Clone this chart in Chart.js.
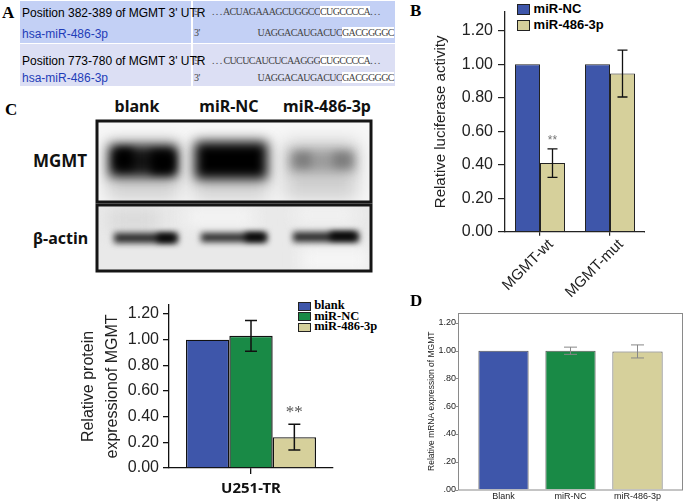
<!DOCTYPE html>
<html lang="en">
<head>
<meta charset="UTF-8">
<title>MGMT / miR-486-3p</title>
<script src="https://cdn.jsdelivr.net/npm/chart.js"></script>
<style>
    body {
        margin: 0;
        width: 685px;
        height: 504px;
        overflow: hidden;
        background: #fff;
        font-family: 'Liberation Sans', Arial, sans-serif;
        position: relative;
    }
    .abs { position: absolute; }
    .panel-letter {
        position: absolute;
        font-family: 'Liberation Serif', 'Times New Roman', serif;
        font-weight: bold;
        font-size: 17px;
        line-height: 1;
    }
    /* panel A table */
    .row { position: absolute; left: 20px; width: 375px; height: 42px; }
    .row .lcol { position: absolute; left: 0; top: 0; width: 171px; height: 42px; }
    .row .rcol { position: absolute; left: 173px; top: 0; width: 202px; height: 42px; }
    .lbl { position: absolute; left: 2px; font-size: 12px; white-space: nowrap; line-height: 14px; }
    .lbl.blue { color: #1f3db8; }
    .seq {
        position: absolute;
        font-family: 'Liberation Serif', 'Times New Roman', serif;
        font-size: 10px;
        color: #444;
        white-space: nowrap;
        line-height: 12px;
        letter-spacing: -0.6px;
    }
    .hl { background: #fff; }
    .blot-lbl {
        position: absolute;
        font-family: 'Noto Sans', 'Open Sans', sans-serif;
        font-weight: bold;
        font-size: 16px;
        line-height: 1;
        white-space: nowrap;
        color: #111;
    }
    .leg { position: absolute; white-space: nowrap; }
    .leg .sw { display: inline-block; vertical-align: middle; border: 1px solid #222; }
</style>
</head>
<body>

<!-- panel A: binding site table -->
<div class="panel-letter" style="left:2px;top:4px;">A</div>
<div class="row" style="top:1px;">
    <div class="lcol" style="background:#c3d0f5;"></div>
    <div class="rcol" style="background:#c3d0f5;"></div>
    <div class="lbl" style="top:5px;">Position 382-389 of MGMT 3' UTR</div>
    <div class="lbl blue" style="top:26px;">hsa-miR-486-3p</div>
</div>
<div class="row" style="top:44px;">
    <div class="lcol" style="background:#dcdff4;"></div>
    <div class="rcol" style="background:#dcdff4;"></div>
    <div class="lbl" style="top:10px;">Position 773-780 of MGMT 3' UTR</div>
    <div class="lbl blue" style="top:27px;">hsa-miR-486-3p</div>
</div>
<div id="seqs"></div>

<!-- panel B -->
<div class="panel-letter" style="left:410px;top:2px;">B</div>
<div id="legB"></div>
<canvas id="chartB" class="abs" width="245" height="300" style="left:400px;top:0px;"></canvas>

<!-- panel C: blot -->
<div class="panel-letter" style="left:5px;top:101px;">C</div>
<div id="blotHead"></div>
<div class="blot-lbl" style="left:33px;top:152px;font-size:17px;">MGMT</div>
<div class="blot-lbl" style="left:33px;top:230px;">β-actin</div>
<canvas id="blot" class="abs" width="280" height="155" style="left:95px;top:119px;"></canvas>

<!-- panel C: protein quantification -->
<div id="legC"></div>
<canvas id="chartC" class="abs" width="280" height="209" style="left:55px;top:295px;"></canvas>

<!-- panel D -->
<div class="panel-letter" style="left:410px;top:292px;">D</div>
<canvas id="chartD" class="abs" width="305" height="204" style="left:380px;top:300px;"></canvas>

<script>
    // ---- data ----
    // panel A sequences: [prefix, seed match, suffix]
    const utrRows = [
        ['. . . ACUAGAAAGCUGGCC', 'CUGCCCCA', '. . .'],
        ['. . . CUCUCAUCUCAAGGG', 'CUGCCCCA', '. . .']
    ];
    const mirSeq = ['UAGGACAUGACUC', 'GACGGGGC'];

    // panel B: luciferase reporter
    const lucCategories = ['MGMT-wt', 'MGMT-mut'];
    const lucSeries = ['miR-NC', 'miR-486-3p'];
    const lucNC = [1.00, 1.00];
    const lucMiR = [0.41, 0.945];
    const lucMiRErr = [0.085, 0.14];
    const lucMiRStars = ['**', ''];
    const lucTicks = [0, 0.2, 0.4, 0.6, 0.8, 1.0, 1.2];

    // panel C: western blot quantification
    const blotLanes = ['blank', 'miR-NC', 'miR-486-3p'];
    const protGroups = ['U251-TR'];
    const protValues = [1.00, 1.03, 0.24];
    const protErr = [0, 0.12, 0.10];
    const protStars = ['', '', '**'];
    const protTicks = [0, 0.2, 0.4, 0.6, 0.8, 1.0, 1.2];

    // panel D: mRNA
    const mrnaCategories = ['Blank', 'miR-NC', 'miR-486-3p'];
    const mrnaValues = [1.00, 1.00, 0.995];
    const mrnaErr = [0, 0.026, 0.047];
    const mrnaTicks = [0, 0.2, 0.4, 0.6, 0.8, 1.0, 1.2];

    const BLUE = '#3e56aa';
    const GREEN = '#198a46';
    const KHAKI = '#d6d09b';
    const groupColors = [BLUE, GREEN, KHAKI];
    const SANS = "'Liberation Sans', Arial, sans-serif";

    // ---- panel A text ----
    const seqBox = document.getElementById('seqs');
    function seqLine(top, tag, pre, mid, post, split) {
        let h = '<div class="seq" style="left:194px;top:' + top + 'px;">' + tag + '</div>';
        h += '<div class="seq" style="right:' + (685 - split) + 'px;top:' + top + 'px;">' + pre + '</div>';
        h += '<div class="seq" style="left:' + split + 'px;top:' + top + 'px;"><span class="hl">' + mid + '</span>' + post + '</div>';
        return h;
    }
    let seqHtml = '';
    seqHtml += seqLine(6, "5'", utrRows[0][0], utrRows[0][1], utrRows[0][2], 320);
    seqHtml += seqLine(27, "3'", mirSeq[0], mirSeq[1], '', 342);
    seqHtml += seqLine(55, "5'", utrRows[1][0], utrRows[1][1], utrRows[1][2], 320);
    seqHtml += seqLine(72, "3'", mirSeq[0], mirSeq[1], '', 342);
    seqBox.innerHTML = seqHtml;

    // ---- legends ----
    document.getElementById('legB').innerHTML = lucSeries.map((s, i) =>
        '<div class="leg" style="left:517px;top:' + (3 + i * 16) + 'px;font:bold 13px ' + SANS + ';line-height:12px;">' +
        '<span class="sw" style="width:11px;height:9px;background:' + [BLUE, KHAKI][i] + ';"></span> ' + s + '</div>'
    ).join('');

    document.getElementById('legC').innerHTML = blotLanes.map((s, i) =>
        '<div class="leg" style="left:298px;top:' + (300 + i * 10.5) + 'px;font:bold 12.5px \'Liberation Serif\', serif;line-height:11px;">' +
        '<span class="sw" style="width:11px;height:7px;background:' + groupColors[i] + ';"></span> ' + s + '</div>'
    ).join('');

    const laneCenters = [137, 229, 327];
    document.getElementById('blotHead').innerHTML = blotLanes.map((s, i) =>
        '<div class="blot-lbl" style="left:' + laneCenters[i] + 'px;top:98px;transform:translateX(-50%);">' + s + '</div>'
    ).join('');

    // ---- blot drawing ----
    (function drawBlot() {
        const c = document.getElementById('blot').getContext('2d');
        // MGMT strip
        c.fillStyle = '#f7f7f7';
        c.fillRect(2, 2, 274, 81);
        c.save();
        c.beginPath(); c.rect(3, 3, 272, 79); c.clip();
        // smear under the bands
        c.filter = 'blur(9px)';
        c.fillStyle = 'rgba(0,0,0,0.16)';
        [[12, 72], [98, 76], [190, 72]].forEach(l => c.fillRect(l[0], 22, l[1], 58));
        // band bodies
        c.filter = 'blur(6px)';
        c.fillStyle = '#141414';
        c.fillRect(14, 26, 68, 32);
        c.fillStyle = '#000';
        c.fillRect(100, 23, 72, 37);
        c.fillStyle = '#9a9a9a';
        c.fillRect(194, 31, 66, 22);
        // darker lobes at the lane ends
        c.filter = 'blur(4px)';
        c.fillStyle = '#000';
        c.fillRect(20, 30, 18, 20);
        c.fillRect(56, 32, 24, 22);
        c.fillStyle = '#7c7c7c';
        c.fillRect(200, 34, 16, 14);
        c.fillRect(238, 34, 18, 14);
        c.restore();
        c.lineWidth = 3;
        c.strokeStyle = '#151515';
        c.strokeRect(2, 2, 274, 81);

        // beta-actin strip
        c.fillStyle = '#e9e9e9';
        c.fillRect(2, 86, 274, 66);
        c.save();
        c.beginPath(); c.rect(3, 87, 272, 64); c.clip();
        c.filter = 'blur(8px)';
        c.fillStyle = '#d9d9d9';
        c.fillRect(14, 90, 50, 22);
        c.fillStyle = '#f6f6f6';
        c.fillRect(205, 128, 70, 25);
        c.fillRect(90, 90, 70, 16);
        c.fillRect(200, 90, 60, 12);
        c.filter = 'blur(3px)';
        c.fillStyle = '#2a2a2a';
        c.fillRect(19, 114, 64, 10);
        c.fillRect(106, 114, 66, 9);
        c.fillRect(198, 113, 66, 10);
        c.fillStyle = '#000';
        c.fillRect(62, 115, 18, 8);
        c.fillRect(150, 114, 20, 8);
        c.fillRect(235, 113, 26, 8);
        c.restore();
        c.strokeRect(2, 86, 274, 66);
    })();

    // ---- chart helpers ----
    const errorBars = {
        id: 'errorBars',
        afterDatasetsDraw(chart, args, opts) {
            const ctx = chart.ctx;
            const y = chart.scales.y;
            chart.data.datasets.forEach((ds, i) => {
                const meta = chart.getDatasetMeta(i);
                meta.data.forEach((bar, j) => {
                    const v = ds.data[j];
                    const e = (ds.errors || [])[j] || 0;
                    ctx.save();
                    if (e) {
                        const top = y.getPixelForValue(v + e);
                        const bot = y.getPixelForValue(v - e);
                        ctx.strokeStyle = opts.color;
                        ctx.lineWidth = opts.width;
                        ctx.beginPath();
                        ctx.moveTo(bar.x, top); ctx.lineTo(bar.x, bot);
                        ctx.moveTo(bar.x - opts.cap / 2, top); ctx.lineTo(bar.x + opts.cap / 2, top);
                        ctx.moveTo(bar.x - opts.cap / 2, bot); ctx.lineTo(bar.x + opts.cap / 2, bot);
                        ctx.stroke();
                    }
                    const s = (ds.stars || [])[j];
                    if (s) {
                        ctx.fillStyle = opts.starColor;
                        ctx.font = opts.starFont;
                        ctx.textAlign = 'center';
                        ctx.textBaseline = 'middle';
                        ctx.fillText(s, bar.x, y.getPixelForValue(v + e) - opts.starGap);
                    }
                    ctx.restore();
                });
            });
        }
    };

    // extra axis bits: x-axis overhang (B) and the framed box (D)
    const extras = {
        id: 'extras',
        afterDraw(chart, args, opts) {
            const ctx = chart.ctx;
            const a = chart.chartArea;
            ctx.save();
            if (opts.xOverhang) {
                ctx.strokeStyle = opts.axisColor;
                ctx.lineWidth = opts.axisWidth;
                ctx.beginPath();
                ctx.moveTo(a.right - 1, a.bottom);
                ctx.lineTo(a.right + opts.xOverhang, a.bottom);
                ctx.stroke();
            }
            if (opts.frame) {
                const f = opts.frame;
                const l = a.left - f.left, r = a.right + f.right;
                ctx.strokeStyle = f.color;
                ctx.lineWidth = 1;
                ctx.strokeRect(l + 0.5, a.top + 0.5, r - l, a.bottom - a.top);
                const y = chart.scales.y;
                ctx.beginPath();
                y.ticks.forEach(t => {
                    const py = Math.round(y.getPixelForValue(t.value)) + 0.5;
                    ctx.moveTo(l - 3, py); ctx.lineTo(l, py);
                });
                ctx.stroke();
            }
            ctx.restore();
        }
    };

    const fixedTicks = arr => axis => { axis.ticks = arr.map(v => ({ value: v })); };
    // fixed scale box sizes, and no extra label padding pushed onto the chart area
    const fitWidth = w => s => { s.width = w; s.paddingTop = s.paddingBottom = s.paddingLeft = s.paddingRight = 0; };
    const fitHeight = h => s => { s.height = h; s.paddingTop = s.paddingBottom = s.paddingLeft = s.paddingRight = 0; };

    // ---- panel B chart ----
    new Chart(document.getElementById('chartB'), {
        type: 'bar',
        data: {
            labels: lucCategories,
            datasets: [
                { label: lucSeries[0], data: lucNC, backgroundColor: BLUE, borderColor: '#222', borderWidth: 1 },
                { label: lucSeries[1], data: lucMiR, errors: lucMiRErr, stars: lucMiRStars,
                  backgroundColor: KHAKI, borderColor: '#222', borderWidth: 1 }
            ]
        },
        options: {
            responsive: false,
            animation: false,
            layout: { padding: { top: 12, right: 0, left: 0, bottom: 0 } },
            datasets: { bar: { categoryPercentage: 0.714, barPercentage: 1 } },
            plugins: {
                legend: { display: false },
                tooltip: { enabled: false },
                errorBars: { color: '#111', width: 1.3, cap: 10, starColor: '#777', starFont: '12px ' + SANS, starGap: 8 },
                extras: { xOverhang: 9, axisColor: '#222', axisWidth: 1.3 }
            },
            scales: {
                x: {
                    afterFit: fitHeight(68.3),
                    grid: { display: true, drawOnChartArea: false, offset: false, tickLength: 4, color: '#222', lineWidth: 1.2 },
                    border: { color: '#222', width: 1.3 },
                    ticks: { minRotation: 45, maxRotation: 45, padding: 0, labelOffset: 11, color: '#222', font: { family: SANS, size: 15 } }
                },
                y: {
                    min: 0, max: 1.313,
                    afterFit: fitWidth(105),
                    afterBuildTicks: fixedTicks(lucTicks),
                    grid: { display: true, drawOnChartArea: false, tickLength: 7, color: '#222', lineWidth: 1.2 },
                    border: { color: '#222', width: 1.3 },
                    ticks: { padding: 5, color: '#222', font: { family: SANS, size: 16 }, callback: v => v.toFixed(2) },
                    title: { display: true, text: 'Relative luciferase activity', color: '#222',
                             font: { family: SANS, size: 15 }, padding: { top: 31.5, bottom: 0 } }
                }
            }
        },
        plugins: [errorBars, extras]
    });

    // ---- panel C chart ----
    new Chart(document.getElementById('chartC'), {
        type: 'bar',
        data: {
            labels: protGroups,
            datasets: blotLanes.map((name, i) => ({
                label: name,
                data: [protValues[i]],
                errors: [protErr[i]],
                stars: [protStars[i]],
                backgroundColor: groupColors[i],
                borderColor: '#111',
                borderWidth: 1.4
            }))
        },
        options: {
            responsive: false,
            animation: false,
            layout: { padding: { top: 10, right: 2, left: 0, bottom: 0 } },
            datasets: { bar: { categoryPercentage: 0.793, barPercentage: 1 } },
            plugins: {
                legend: { display: false },
                tooltip: { enabled: false },
                errorBars: { color: '#111', width: 1.5, cap: 12, starColor: '#555', starFont: '17px \'Liberation Serif\', serif', starGap: 12 }
            },
            scales: {
                x: {
                    afterFit: fitHeight(36),
                    grid: { display: true, drawOnChartArea: false, offset: false, tickLength: 6, color: '#111', lineWidth: 1.3 },
                    border: { color: '#111', width: 1.3 },
                    ticks: { padding: 6, color: '#111', font: { family: "'Noto Sans', sans-serif", size: 15, weight: 'bold' } }
                },
                y: {
                    min: 0, max: 1.27,
                    afterFit: fitWidth(114),
                    afterBuildTicks: fixedTicks(protTicks),
                    grid: { display: true, drawOnChartArea: false, tickLength: 6, color: '#111', lineWidth: 1.3 },
                    border: { color: '#111', width: 1.3 },
                    ticks: { padding: 4, color: '#222', font: { family: SANS, size: 16 }, callback: v => v.toFixed(2) },
                    title: { display: true, text: ['Relative protein', 'expressionof MGMT'], color: '#222',
                             font: { family: SANS, size: 16, lineHeight: 1.5 }, padding: { top: 22, bottom: 0 } }
                }
            }
        },
        plugins: [errorBars]
    });

    // ---- panel D chart ----
    new Chart(document.getElementById('chartD'), {
        type: 'bar',
        data: {
            labels: mrnaCategories,
            datasets: [{
                label: 'mRNA',
                data: mrnaValues,
                errors: mrnaErr,
                backgroundColor: groupColors,
                borderColor: '#555',
                borderWidth: 1
            }]
        },
        options: {
            responsive: false,
            animation: false,
            layout: { padding: { top: 13, right: 14, left: 0, bottom: 0 } },
            datasets: { bar: { categoryPercentage: 1, barPercentage: 0.75 } },
            plugins: {
                legend: { display: false },
                tooltip: { enabled: false },
                errorBars: { color: '#888', width: 1, cap: 13 },
                extras: { frame: { left: 12, right: 11, color: '#8a8a8a' } }
            },
            scales: {
                x: {
                    afterFit: fitHeight(14.5),
                    grid: { display: false, drawTicks: false },
                    border: { display: false },
                    ticks: { padding: 2, color: '#222', font: { family: SANS, size: 9 } }
                },
                y: {
                    min: 0, max: 1.272,
                    afterFit: fitWidth(90),
                    afterBuildTicks: fixedTicks(mrnaTicks),
                    grid: { display: false, drawTicks: false },
                    border: { display: false },
                    ticks: { padding: 14, color: '#222', font: { family: SANS, size: 9 },
                             callback: v => v.toFixed(2).replace(/^0/, '') },
                    title: { display: true, text: 'Relative mRNA expression of MGMT', color: '#222',
                             font: { family: SANS, size: 8.5 }, padding: { top: 47, bottom: 0 } }
                }
            }
        },
        plugins: [errorBars, extras]
    });
</script>
</body>
</html>
